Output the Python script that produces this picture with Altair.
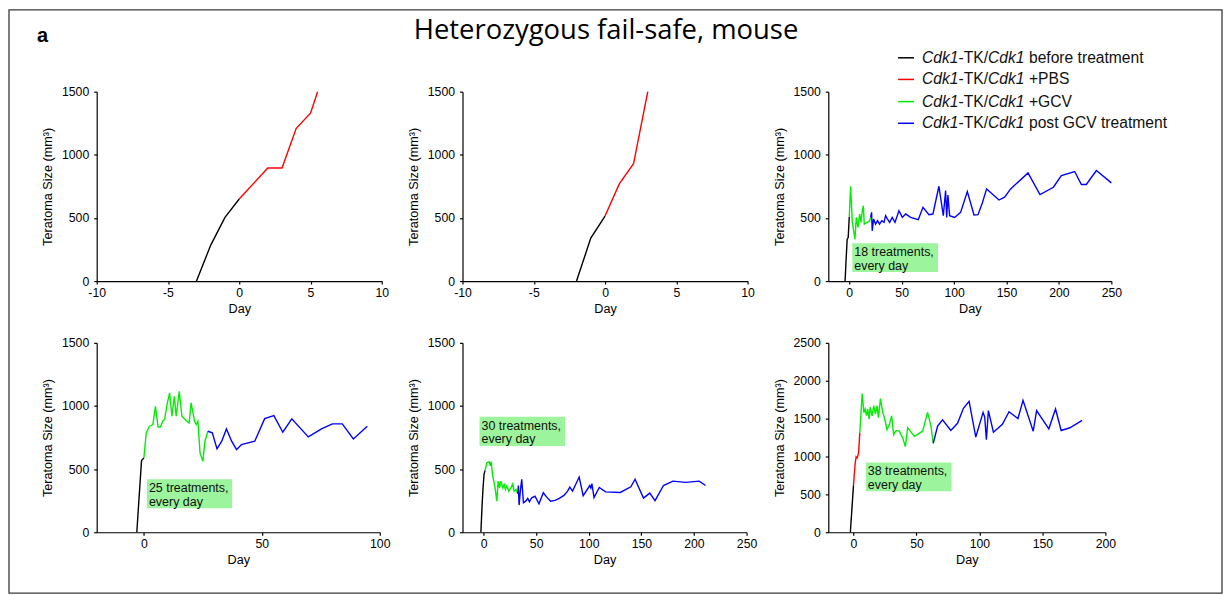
import altair as alt
import pandas as pd

# ---------------- data ----------------
PHASES = ["before", "pbs", "gcv", "post"]
COLORS = ["#000000", "#ff0000", "#00ee00", "#0000ff"]
LEGEND_SUFFIX = ["before treatment", "+PBS", "+GCV", "post GCV treatment"]

P1_BEFORE_DAY = [-3, -2, -1, 0]
P1_BEFORE_SIZE = [0, 285, 505, 650]
P1_PBS_DAY = [0, 2, 3, 4, 5, 5.5]
P1_PBS_SIZE = [650, 895, 895, 1210, 1330, 1500]

P2_BEFORE_DAY = [-2, -1, 0]
P2_BEFORE_SIZE = [0, 340, 515]
P2_PBS_DAY = [0, 1, 2, 3]
P2_PBS_SIZE = [515, 770, 930, 1500]

P3_BEFORE_DAY = [-4, -3, -2, -1, 0]
P3_BEFORE_SIZE = [0, 173, 332, 345, 510]
P3_GCV_DAY = [0, 1.3, 2.9, 5.4, 6.7, 8.3, 9.9, 11.1, 12.4, 13.4, 14.3, 17.2, 19.4, 20.4]
P3_GCV_SIZE = [510, 751, 465, 332, 504, 425, 531, 465, 557, 597, 451, 465, 478, 504]
P3_POST_DAY = [20.4, 21.3, 21.9, 23.2, 25.1, 27, 28.9, 31, 33.1, 34.7, 36.5, 38.5, 41, 43.6,
               47.4, 50.6, 53.8, 58.5, 65.8, 70.3, 76, 79.8, 85.5, 89.7, 91.9, 92.9, 94.1,
               95.7, 100.5, 106.2, 112.6, 119, 122.8, 126.9, 131, 142.8, 148.2, 153.9,
               170.5, 181.9, 194.7, 202.3, 215, 221.4, 226.1, 235.7, 250]
P3_POST_SIZE = [504, 544, 398, 491, 451, 478, 451, 478, 465, 518, 490, 465, 504, 465,
                557, 504, 531, 504, 486, 584, 526, 531, 751, 518, 717, 504, 682,
                518, 504, 544, 709, 523, 526, 619, 730, 642, 664, 730,
                857, 685, 743, 836, 868, 765, 765, 876, 778]

P4_BEFORE_DAY = [-3, -1, 0]
P4_BEFORE_SIZE = [0, 568, 589]
P4_GCV_DAY = [0, 1, 2.4, 3.8, 4.9, 6, 7, 8, 8.8, 9.8, 10.9, 11.9, 12.9, 13.7, 15, 16.1,
              18.2, 19.2, 20, 21.5, 22.2, 22.9, 23.8, 25, 25.9, 27.1]
P4_GCV_SIZE = [589, 787, 840, 853, 998, 834, 834, 879, 893, 1011, 1104, 919, 1077, 919,
               1117, 919, 879, 866, 1025, 879, 853, 879, 628, 562, 721, 800]
P4_POST_DAY = [27.1, 29, 31, 33, 35, 37.2, 39.3, 41.4, 47, 51.2, 55.1, 58.9, 62.7, 69.7,
               75.3, 79.9, 84.1, 88.8, 94.7]
P4_POST_SIZE = [800, 787, 660, 721, 818, 721, 655, 694, 721, 900, 924, 792, 898, 755,
                818, 858, 858, 739, 840]

P5_BEFORE_DAY = [-2.5, -1.5, -0.5, 0.5, 1.5]
P5_BEFORE_SIZE = [0, 195, 350, 460, 490]
P5_GCV_DAY = [1.5, 3.2, 5.4, 6.3, 7.3, 8.5, 11, 12.6, 13.9, 15.2, 16.4, 18.3, 19.6, 20.8,
              22.1, 24, 25.9, 27.8, 29, 30.9, 32.5]
P5_GCV_SIZE = [490, 551, 559, 525, 559, 459, 352, 246, 405, 352, 405, 352, 379, 339,
               366, 326, 352, 384, 326, 339, 305]
P5_POST_DAY = [32.5, 33.1, 33.8, 35, 36.3, 37.9, 40.1, 42, 43.6, 45.8, 48.9, 52.7, 56.8,
               60, 63.8, 67.9, 72, 76.4, 79.9, 82, 84.6, 90.9, 94.7, 101, 102, 103, 105,
               110, 116, 130, 140, 144, 152, 158, 163, 171, 180, 192, 205, 211]
P5_POST_SIZE = [305, 370, 215, 330, 419, 233, 246, 268, 241, 273, 285, 225, 313,
                278, 246, 252, 268, 292, 326, 358, 326, 437, 290, 370, 350, 385, 275,
                355, 320, 315, 360, 420, 270, 310, 250, 370, 405, 395, 405, 370]

P6_BEFORE_DAY = [-2.5, 0]
P6_BEFORE_SIZE = [0, 620]
P6_PBS_DAY = [0, 1.3, 2.1, 2.9, 4, 5]
P6_PBS_SIZE = [620, 904, 995, 981, 1040, 1311]
P6_GCV_DAY = [5, 6.9, 8.2, 9.2, 10.3, 11.3, 12.4, 13.2, 14.8, 16.1, 17.4, 18.7, 19.8,
              21.4, 23.2, 24.5, 26.6, 28.5, 30.3, 31.9, 33.8, 36.4, 39.1, 41.2, 43,
              45.1, 48.3, 54.9, 56.7, 58.8, 61.5, 63.3]
P6_GCV_SIZE = [1311, 1831, 1582, 1627, 1540, 1627, 1492, 1650, 1537, 1673, 1560, 1673,
               1514, 1763, 1582, 1514, 1356, 1424, 1537, 1288, 1343, 1334, 1243, 1130,
               1379, 1334, 1266, 1334, 1447, 1582, 1401, 1175]
P6_POST_DAY = [63.3, 66.8, 70.7, 77.3, 82.6, 87.3, 91.8, 97.1, 102.9, 104.2, 105.5, 107.1,
               111.1, 118.2, 123.5, 130.6, 134.6, 142.7, 145.4, 155.1, 160.4, 164.9,
               171.8, 181.5]
P6_POST_SIZE = [1175, 1401, 1483, 1343, 1438, 1637, 1727, 1257, 1582, 1520, 1221, 1605,
                1320, 1424, 1591, 1501, 1741, 1334, 1605, 1365, 1627, 1343, 1379, 1478]

SERIES = [
    (1, "before", P1_BEFORE_DAY, P1_BEFORE_SIZE), (1, "pbs", P1_PBS_DAY, P1_PBS_SIZE),
    (2, "before", P2_BEFORE_DAY, P2_BEFORE_SIZE), (2, "pbs", P2_PBS_DAY, P2_PBS_SIZE),
    (3, "before", P3_BEFORE_DAY, P3_BEFORE_SIZE), (3, "gcv", P3_GCV_DAY, P3_GCV_SIZE),
    (3, "post", P3_POST_DAY, P3_POST_SIZE),
    (4, "before", P4_BEFORE_DAY, P4_BEFORE_SIZE), (4, "gcv", P4_GCV_DAY, P4_GCV_SIZE),
    (4, "post", P4_POST_DAY, P4_POST_SIZE),
    (5, "before", P5_BEFORE_DAY, P5_BEFORE_SIZE), (5, "gcv", P5_GCV_DAY, P5_GCV_SIZE),
    (5, "post", P5_POST_DAY, P5_POST_SIZE),
    (6, "before", P6_BEFORE_DAY, P6_BEFORE_SIZE), (6, "pbs", P6_PBS_DAY, P6_PBS_SIZE),
    (6, "gcv", P6_GCV_DAY, P6_GCV_SIZE), (6, "post", P6_POST_DAY, P6_POST_SIZE),
]

# annotation boxes (data units): panel -> (x1, x2, y_low, y_high, label)
ANNOT = {
    3: (2.9, 84.6, 72, 300, "18 treatments,\nevery day"),
    4: (1.3, 37.4, 190, 420, "25 treatments,\nevery day"),
    5: (-3.8, 77.4, 684, 914, "30 treatments,\nevery day"),
    6: (9.8, 77.8, 540, 921, "38 treatments,\nevery day"),
}

rows = []
for pid, phase, days, sizes in SERIES:
    for i, (d, s) in enumerate(zip(days, sizes)):
        rows.append({"panel": pid, "phase": phase, "day": d, "size": s, "idx": i})
df = pd.DataFrame(rows)

FONT = "Liberation Sans"
ONE = pd.DataFrame({"k": [0]})
YTITLE = "Teratoma Size (mm³)"
LABEL_EXPR = "'' + datum.value"


def enc_x(field, dom, ticks):
    return alt.X(f"{field}:Q", scale=alt.Scale(domain=dom, nice=False, zero=False),
                 axis=alt.Axis(values=ticks, title="Day", labelPadding=2, titlePadding=4,
                               labelFlush=False, labelExpr=LABEL_EXPR))


def enc_y(field, dom, ticks):
    return alt.Y(f"{field}:Q", scale=alt.Scale(domain=dom, nice=False, zero=False),
                 axis=alt.Axis(values=ticks, title=YTITLE, labelPadding=5, titlePadding=7,
                               labelExpr=LABEL_EXPR))


def panel(pid, xdom, xticks, ydom, yticks, w, h, extra=None):
    layers = []
    if pid in ANNOT:
        x1, x2, ylo, yhi, lab = ANNOT[pid]
        adf = pd.DataFrame({"x1": [x1], "x2": [x2], "ylo": [ylo], "yhi": [yhi], "label": [lab]})
        layers.append(alt.Chart(adf).mark_rect(color="#9cf59c").encode(
            x=enc_x("x1", xdom, xticks), x2="x2:Q",
            y=enc_y("ylo", ydom, yticks), y2="yhi:Q"))
        layers.append(alt.Chart(adf).mark_text(
            align="left", baseline="top", dx=2, dy=3, font=FONT, fontSize=12.5,
            lineBreak="\n", lineHeight=13.5, color="#111").encode(
            x=enc_x("x1", xdom, xticks), y=enc_y("yhi", ydom, yticks), text="label:N"))
    layers.append(alt.Chart(df[df.panel == pid]).mark_line(strokeWidth=1.4).encode(
        x=enc_x("day", xdom, xticks), y=enc_y("size", ydom, yticks),
        color=alt.Color("phase:N", scale=alt.Scale(domain=PHASES, range=COLORS), legend=None),
        order="idx:Q"))
    if extra:
        layers.extend(extra)
    return alt.layer(*layers).properties(width=w, height=h)


# decorations: frame and panel letter (panel 1), figure title (panel 2), legend (panel 3)
frame = alt.Chart(ONE).mark_rect(fillOpacity=0, stroke="#3a3a3a", strokeWidth=1.3).encode(
    x=alt.value(-88), x2=alt.value(1129), y=alt.value(-82), y2=alt.value(503))
letter = alt.Chart(ONE).mark_text(align="left", baseline="alphabetic", font=FONT,
                                  fontSize=20, fontWeight="bold", color="#000").encode(
    x=alt.value(-60), y=alt.value(-50), text=alt.value("a"))
title = alt.Chart(ONE).mark_text(align="center", baseline="alphabetic", font="Open Sans",
                                 fontSize=27.5, color="#000").encode(
    x=alt.value(144), y=alt.value(-53), text=alt.value("Heterozygous fail-safe, mouse"))

LEG_Y = [-34, -12.3, 10, 31.7]
LEG_FS = 15.7
legend_layers = []
for i in range(4):
    yv = LEG_Y[i]
    legend_layers.append(alt.Chart(ONE).mark_rule(strokeWidth=1.5, color=COLORS[i]).encode(
        x=alt.value(70), x2=alt.value(86), y=alt.value(yv)))
    pieces = [("Cdk1", "italic", 0), ("-TK/", "normal", 36.6), ("Cdk1", "italic", 66.3),
              (LEGEND_SUFFIX[i], "normal", 107.3)]
    for txt, style, off in pieces:
        legend_layers.append(alt.Chart(ONE).mark_text(
            align="left", baseline="middle", font=FONT, fontSize=LEG_FS, fontStyle=style,
            color="#111").encode(x=alt.value(94 + off), y=alt.value(yv), text=alt.value(txt)))

Y1500 = [0, 500, 1000, 1500]
p1 = panel(1, [-10, 10], [-10, -5, 0, 5, 10], [0, 1500], Y1500, 286, 190, [frame, letter])
p2 = panel(2, [-10, 10], [-10, -5, 0, 5, 10], [0, 1500], Y1500, 286, 190, [title])
p3 = panel(3, [-20, 250], [0, 50, 100, 150, 200, 250], [0, 1500], Y1500, 284, 190, legend_layers)
p4 = panel(4, [-20, 100], [0, 50, 100], [0, 1500], Y1500, 284, 190)
p5 = panel(5, [-20, 250], [0, 50, 100, 150, 200, 250], [0, 1500], Y1500, 285, 190)
p6 = panel(6, [-20, 200], [0, 50, 100, 150, 200], [0, 2500], [0, 500, 1000, 1500, 2000, 2500],
           278, 190)

chart = alt.concat(
    p1, p2, p3, p4, p5, p6, columns=3, bounds="flush",
    spacing=alt.RowColnumber(row=62, column=81), padding=0
).configure_view(
    strokeWidth=0
).configure_axis(
    grid=False, domainColor="#000", tickColor="#000", domainWidth=1.2, tickWidth=1.2,
    tickSize=3, labelFont=FONT, titleFont=FONT, labelFontSize=12.3, titleFontSize=12.7,
    titleFontWeight="normal", labelColor="#000", titleColor="#000", labelOverlap=False
)

chart.save("out.html", embed_options={"renderer": "svg", "actions": False})
